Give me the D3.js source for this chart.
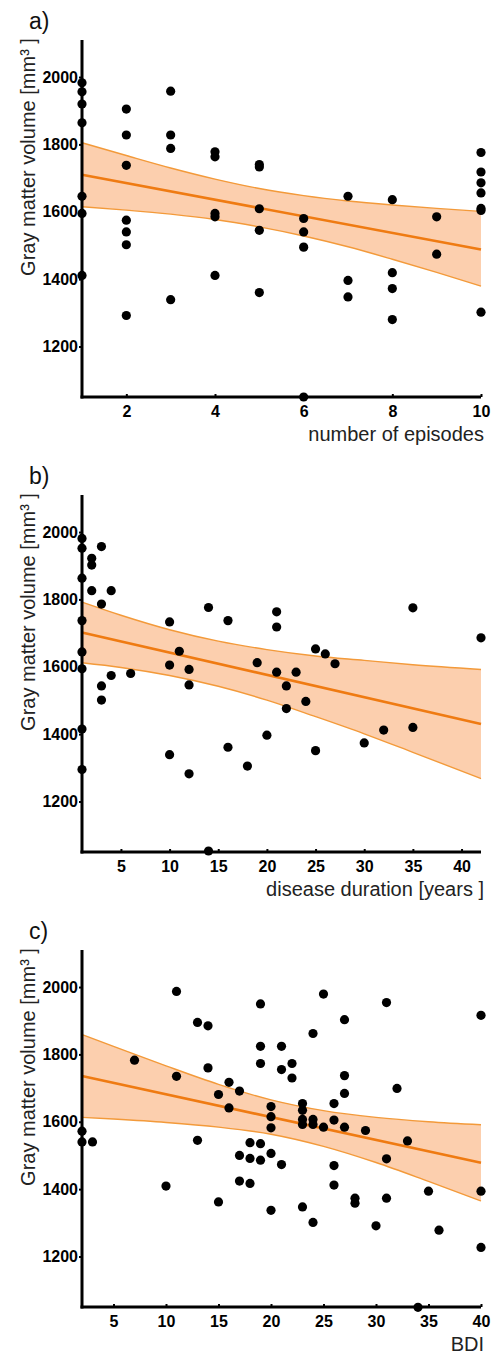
<!DOCTYPE html>
<html>
  <head>
    <meta charset="utf-8">
    <title>Gray matter volume regressions</title>
    <script src="https://d3js.org/d3.v7.min.js"></script>
    <style>
      body { margin: 0; background: #fff; }
      .axis-label {
        font-family: "Liberation Sans", Arial, sans-serif;
        font-size: 20px;
        fill: #222;
      }
      .panel-label {
        font-family: "Liberation Sans", Arial, sans-serif;
        font-size: 23px;
        fill: #111;
      }
    </style>
  </head>
  <body>
    <svg width="491" height="1355"></svg>

    <script>
      // ---- data ----
      const yTicks = [1200, 1400, 1600, 1800, 2000];

      // a) number of episodes
      const episodesTicks = [2, 4, 6, 8, 10];
      const episodesPts = [
        [1,1983],[1,1956],[1,1920],[1,1864],[1,1646],[1,1595],[1,1411],
        [2,1905],[2,1828],[2,1738],[2,1575],[2,1540],[2,1502],[2,1292],
        [3,1958],[3,1828],[3,1788],[3,1339],
        [4,1778],[4,1763],[4,1595],[4,1585],[4,1411],
        [5,1740],[5,1733],[5,1609],[5,1545],[5,1360],
        [6,1580],[6,1540],[6,1495],[6,1050],
        [7,1646],[7,1396],[7,1347],
        [8,1636],[8,1419],[8,1372],[8,1280],
        [9,1585],[9,1474],
        [10,1776],[10,1718],[10,1686],[10,1656],[10,1610],[10,1604],[10,1302]
      ];
      const episodesFit = [[1, 1710], [10, 1488]];
      const episodesBandX  = [1, 2, 3, 4, 5, 6, 7, 8, 9, 10];
      const episodesBandHi = [1805, 1767, 1730, 1697, 1669, 1648, 1632, 1620, 1610, 1601];
      const episodesBandLo = [1615, 1605, 1593, 1577, 1555, 1528, 1496, 1459, 1420, 1379];

      // b) disease duration
      const durationTicks = [5, 10, 15, 20, 25, 30, 35, 40];
      const durationPts = [
        [1,1981],[1,1952],[1,1863],[1,1737],[1,1644],[1,1594],[1,1415],[1,1295],
        [2,1922],[2,1902],[2,1826],[3,1957],[3,1786],[3,1543],[3,1501],[4,1826],[4,1574],[6,1580],
        [10,1733],[10,1605],[10,1339],[11,1646],[12,1592],[12,1546],[12,1282],[14,1776],[14,1053],
        [16,1737],[16,1361],[18,1305],[19,1612],[20,1397],[21,1763],[21,1718],[21,1584],[22,1543],[22,1476],
        [23,1584],[24,1497],[25,1653],[25,1351],[26,1638],[27,1609],[30,1374],[32,1412],[35,1775],[35,1420],[42,1686]
      ];
      const durationFit = [[1, 1702], [42, 1430]];
      const durationBandX  = [1, 5, 10, 15, 20, 25, 30, 35, 42];
      const durationBandHi = [1792, 1753, 1710, 1676, 1651, 1632, 1619, 1606, 1592];
      const durationBandLo = [1612, 1598, 1574, 1542, 1501, 1452, 1401, 1346, 1268];

      // c) BDI
      const bdiTicks = [5, 10, 15, 20, 25, 30, 35, 40];
      const bdiPts = [
        [2,1572],[2,1540],[3,1540],[7,1783],[10,1409],[11,1987],[11,1735],[13,1895],[13,1545],[14,1885],[14,1760],
        [15,1681],[15,1362],[16,1717],[16,1641],[17,1691],[17,1500],[17,1424],[18,1538],[18,1491],[18,1417],
        [19,1950],[19,1824],[19,1773],[19,1535],[19,1486],[20,1645],[20,1615],[20,1582],[20,1506],[20,1337],
        [21,1824],[21,1755],[21,1473],[22,1773],[22,1730],[23,1654],[23,1634],[23,1607],[23,1592],[23,1347],
        [24,1862],[24,1607],[24,1592],[24,1301],[25,1979],[25,1584],[26,1654],[26,1605],[26,1470],[26,1412],
        [27,1903],[27,1737],[27,1684],[27,1584],[28,1373],[28,1358],[29,1574],[30,1291],[31,1954],[31,1490],[31,1373],
        [32,1699],[33,1543],[34,1049],[35,1394],[36,1278],[40,1916],[40,1394],[40,1227]
      ];
      const bdiFit = [[2, 1736], [40, 1478]];
      const bdiBandX  = [2, 5, 10, 15, 20, 25, 30, 35, 40];
      const bdiBandHi = [1859, 1824, 1766, 1711, 1665, 1633, 1613, 1600, 1591];
      const bdiBandLo = [1613, 1608, 1598, 1584, 1563, 1527, 1479, 1423, 1365];

      const panelLabels = ["a)", "b)", "c)"];
      const xLabels = ["number of episodes", "disease duration [years ]", "BDI"];
      const yLabel = "Gray matter volume [mm³ ]";

      function styleTicks(axisG) {
        axisG.select(".domain").remove();
        axisG.selectAll(".tick line").attr("stroke", "#000").attr("stroke-width", 2);
        axisG.selectAll(".tick text")
          .attr("fill", "#000")
          .style("font-family", "'Liberation Sans', Arial, sans-serif")
          .style("font-weight", "bold")
          .style("font-size", "16px");
      }

      function scatterPanel(selection, props) {
        const { top, xDomain, xTicks, pts, fit, bandX, bandHi, bandLo, label, xLabel } = props;
        const left = 82, right = 481, plotTop = 40, plotBottom = 397;

        const g = selection.append("g").attr("transform", `translate(0, ${top})`);

        const x = d3.scaleLinear().domain(xDomain).range([left, right]);
        const y = d3.scaleLinear().domain([1050, 2110]).range([plotBottom, plotTop]);

        const band = bandX.map((d, i) => ({ x: d, hi: bandHi[i], lo: bandLo[i] }));

        g.append("path")
          .datum(band)
          .attr("fill", "#fccfae")
          .attr("d", d3.area().curve(d3.curveMonotoneX)
            .x(d => x(d.x)).y0(d => y(d.lo)).y1(d => y(d.hi)));

        ["hi", "lo"].forEach(k => {
          g.append("path")
            .datum(band)
            .attr("fill", "none")
            .attr("stroke", "#f39a3a")
            .attr("stroke-width", 1.4)
            .attr("d", d3.line().curve(d3.curveMonotoneX).x(d => x(d.x)).y(d => y(d[k])));
        });

        g.append("path")
          .datum(fit)
          .attr("fill", "none")
          .attr("stroke", "#ef7b12")
          .attr("stroke-width", 2.6)
          .attr("d", d3.line().x(d => x(d[0])).y(d => y(d[1])));

        // axes
        const yAxis = g.append("g")
          .attr("transform", `translate(${left}, 0)`)
          .call(d3.axisLeft(y).tickValues(yTicks).tickFormat(d3.format("d"))
            .tickSize(3).tickSizeOuter(0).tickPadding(1));
        styleTicks(yAxis);

        const xAxis = g.append("g")
          .attr("transform", `translate(0, ${plotBottom})`)
          .call(d3.axisBottom(x).tickValues(xTicks).tickFormat(d3.format("d"))
            .tickSize(-3).tickSizeOuter(0).tickPadding(9));
        styleTicks(xAxis);

        g.append("line")
          .attr("x1", left).attr("x2", left).attr("y1", plotTop).attr("y2", plotBottom + 1.5)
          .attr("stroke", "#000").attr("stroke-width", 3);
        g.append("line")
          .attr("x1", left - 1.5).attr("x2", right).attr("y1", plotBottom).attr("y2", plotBottom)
          .attr("stroke", "#000").attr("stroke-width", 3);

        g.selectAll(".dot")
          .data(pts)
          .join("circle")
          .attr("class", "dot")
          .attr("cx", d => x(d[0]))
          .attr("cy", d => y(d[1]))
          .attr("r", 4.6)
          .attr("fill", "#000");

        g.append("text")
          .attr("class", "panel-label")
          .attr("x", 29).attr("y", 29)
          .text(label);

        g.append("text")
          .attr("class", "axis-label")
          .attr("transform", `translate(35, 157) rotate(-90)`)
          .attr("text-anchor", "middle")
          .text(yLabel);

        g.append("text")
          .attr("class", "axis-label")
          .attr("x", 484).attr("y", 441)
          .attr("text-anchor", "end")
          .text(xLabel);
      }

      function main() {
        const svg = d3.select("svg");
        const panels = [
          { xDomain: [1, 10], xTicks: episodesTicks, pts: episodesPts, fit: episodesFit,
            bandX: episodesBandX, bandHi: episodesBandHi, bandLo: episodesBandLo },
          { xDomain: [1, 42], xTicks: durationTicks, pts: durationPts, fit: durationFit,
            bandX: durationBandX, bandHi: durationBandHi, bandLo: durationBandLo },
          { xDomain: [2, 40], xTicks: bdiTicks, pts: bdiPts, fit: bdiFit,
            bandX: bdiBandX, bandHi: bdiBandHi, bandLo: bdiBandLo }
        ];
        panels.forEach((p, i) => {
          svg.call(scatterPanel, Object.assign({
            top: i * 455,
            label: panelLabels[i],
            xLabel: xLabels[i]
          }, p));
        });
      }
      main();
    </script>
  </body>
</html>
